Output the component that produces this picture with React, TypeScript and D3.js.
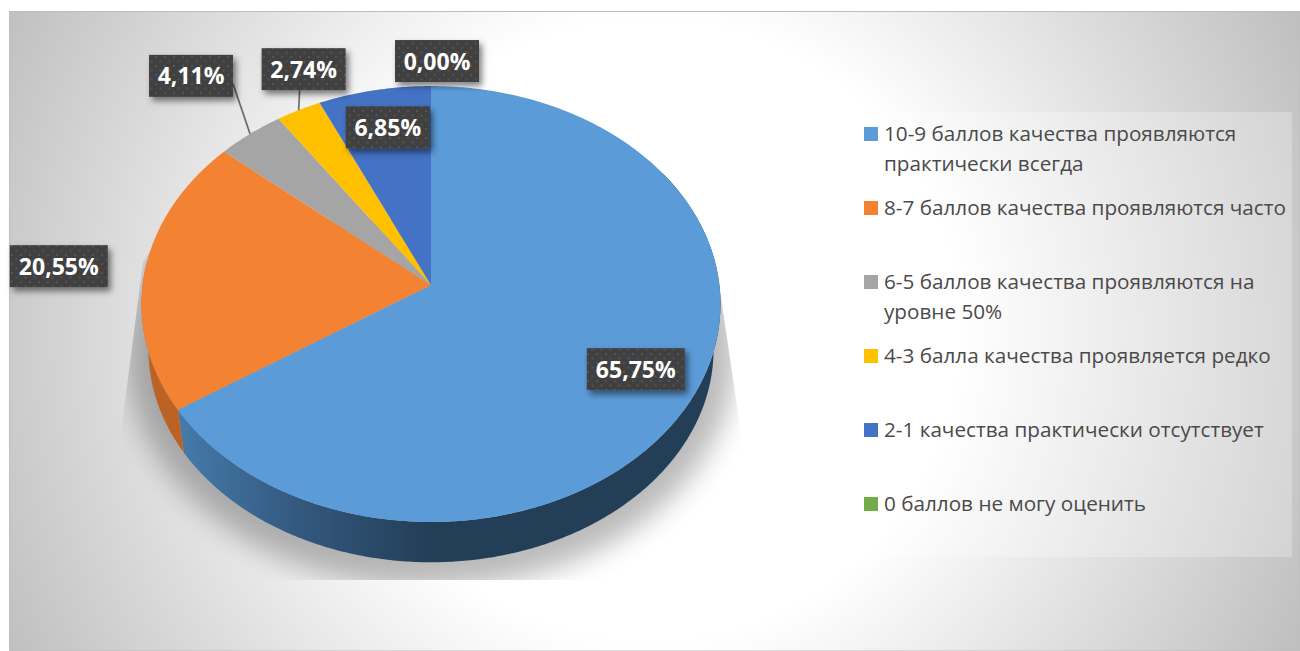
import React from "react";
import * as d3 from "d3";

const categories = [
  ["10-9 баллов качества проявляются", "практически всегда"],
  ["8-7 баллов качества проявляются часто"],
  ["6-5 баллов качества проявляются на", "уровне 50%"],
  ["4-3 балла качества проявляется редко"],
  ["2-1 качества практически отсутствует"],
  ["0 баллов не могу оценить"],
];
const values = [65.75, 20.55, 4.11, 2.74, 6.85, 0.0];
const colors = ["#5b9bd8", "#f38233", "#a5a5a5", "#ffc000", "#4472c4", "#70ad47"];
// Label placement relative to each slice's rim midpoint
const labelOffsets = [[-60, -23], [-86, -5], [-59, -58], [5, -41], [13.5, 37], [6, -25]];
const hasLeader = [false, false, true, true, false, false];

const W = 1300, H = 651;
const cx = 431, cy = 285, rx = 288.4, ry = 216.3, k = -0.0872;
const depth = 46, bottomScale = 0.976;
const FONT = "'Open Sans', sans-serif";

function project(theta: number, grow = 0): [number, number] {
  const u = Math.sin(theta), v = -Math.cos(theta);
  const d = 1 + k * v;
  return [cx + ((rx + grow) * u) / d, cy + ((ry + grow) * v) / d];
}
function lower([x, y]: [number, number]): [number, number] {
  return [cx + (x - cx) * bottomScale, cy + depth + (y - cy) * bottomScale];
}
function arcSamples(a0: number, a1: number, grow = 0) {
  const n = Math.max(2, Math.ceil(Math.abs(a1 - a0) / 0.01));
  return d3.range(n + 1).map((i) => project(a0 + ((a1 - a0) * i) / n, grow));
}
const line = d3.line();
const closed = (pts: [number, number][]) => (line(pts) as string) + "Z";

const slices = d3
  .pie<number>()
  .sort(null)
  .startAngle(0)
  .endAngle(Math.PI * 2)(values);

const legendY = d3.scaleLinear().domain([0, 5]).range([127, 497]);

const shadowShape = closed(
  arcSamples(0, Math.PI * 2, 22).map((p) => {
    const q = lower(p);
    return [q[0], q[1] + 2] as [number, number];
  })
);
const shadowClip: [number, number][] = [
  [170, 220], [143, 262], [121, 432], [121, 580], [745, 580], [742, 440], [720, 290], [690, 220],
];

const fmt = (v: number) => v.toFixed(2).replace(".", ",") + "%";

export default function App() {
  return (
    <svg width={W} height={H} viewBox={`0 0 ${W} ${H}`} style={{ position: "absolute", left: 0, top: 0, display: "block" }}>
      <defs>
        <radialGradient id="bg" gradientUnits="userSpaceOnUse" cx={650} cy={330} r={720}>
          <stop offset="0.43" stopColor="#ffffff" />
          <stop offset="1" stopColor="#bfbfbf" />
        </radialGradient>
        <linearGradient id="blueSide" gradientUnits="userSpaceOnUse" x1={177} y1={0} x2={425} y2={0}>
          <stop offset="0" stopColor="#457bab" />
          <stop offset="0.5" stopColor="#33587e" />
          <stop offset="1" stopColor="#233f58" />
        </linearGradient>
        <filter id="shadowBlur" x="-10%" y="-10%" width="120%" height="120%">
          <feGaussianBlur stdDeviation="14" />
        </filter>
        <filter id="labelShadow" x="-20%" y="-30%" width="150%" height="170%">
          <feDropShadow dx="3" dy="4" stdDeviation="3" floodColor="#000" floodOpacity="0.5" />
        </filter>
        <pattern id="dots" width="9" height="9" patternUnits="userSpaceOnUse">
          <rect width="9" height="9" fill="#404040" />
          <rect x="2" y="2" width="2" height="2" fill="#525252" />
          <rect x="6.5" y="6.5" width="2" height="2" fill="#525252" />
        </pattern>
        <clipPath id="shadowClip">
          <path d={closed(shadowClip)} />
        </clipPath>
      </defs>

      <rect x={9.5} y={11.5} width={W - 9.5} height={H - 11.5} fill="url(#bg)" stroke="#bfbfbf" strokeWidth={1} />

      <g clipPath="url(#shadowClip)">
        <path d={shadowShape} fill="#000" opacity={0.27} filter="url(#shadowBlur)" />
      </g>

      {/* pie sides */}
      <path
        d={closed([...arcSamples(1.0, slices[0].endAngle), ...arcSamples(1.0, slices[0].endAngle).map(lower).reverse()])}
        fill="url(#blueSide)"
      />
      <path
        d={closed([...arcSamples(slices[1].startAngle, slices[1].startAngle + 0.7), ...arcSamples(slices[1].startAngle, slices[1].startAngle + 0.7).map(lower).reverse()])}
        fill="#bb6325"
      />

      {/* pie top */}
      {slices.map((s, i) =>
        s.value > 0 ? (
          <path key={i} d={closed([[cx, cy], ...arcSamples(s.startAngle, s.endAngle)])} fill={colors[i]} />
        ) : null
      )}

      {/* leaders */}
      {slices.map((s, i) => {
        if (!hasLeader[i]) return null;
        const [px, py] = project((s.startAngle + s.endAngle) / 2);
        const lx = px + labelOffsets[i][0], ly = py + labelOffsets[i][1];
        const sx = i === 2 ? lx + 42 : lx - 4;
        const sy = i === 2 ? ly + 8 : ly + 21;
        return <line key={i} x1={sx} y1={sy} x2={px} y2={py} stroke="#6e6e6e" strokeWidth={1.7} />;
      })}

      {/* data labels */}
      {slices.map((s, i) => {
        const [px, py] = project((s.startAngle + s.endAngle) / 2);
        const lx = px + labelOffsets[i][0], ly = py + labelOffsets[i][1];
        const text = fmt(s.value);
        const w = text.length > 5 ? 98 : 84;
        const h = 42;
        return (
          <g key={i}>
            <rect x={lx - w / 2} y={ly - h / 2} width={w} height={h} fill="url(#dots)" filter="url(#labelShadow)" />
            <text x={lx} y={ly + 8.5} textAnchor="middle" fontFamily={FONT} fontWeight={700} fontSize={23} fill="#fff">
              {text}
            </text>
          </g>
        );
      })}

      {/* legend */}
      <rect x={851} y={112} width={441} height={445} fill="#fff" opacity={0.25} />
      {categories.map((lines, i) => (
        <g key={i}>
          <rect x={864} y={legendY(i)} width={14} height={14} fill={colors[i]} />
          {lines.map((t, j) => (
            <text key={j} x={884} y={legendY(i) + 14 + j * 29.5} fontFamily={FONT} fontSize={20.7} fill="#4a4a4a">
              {t}
            </text>
          ))}
        </g>
      ))}
    </svg>
  );
}
